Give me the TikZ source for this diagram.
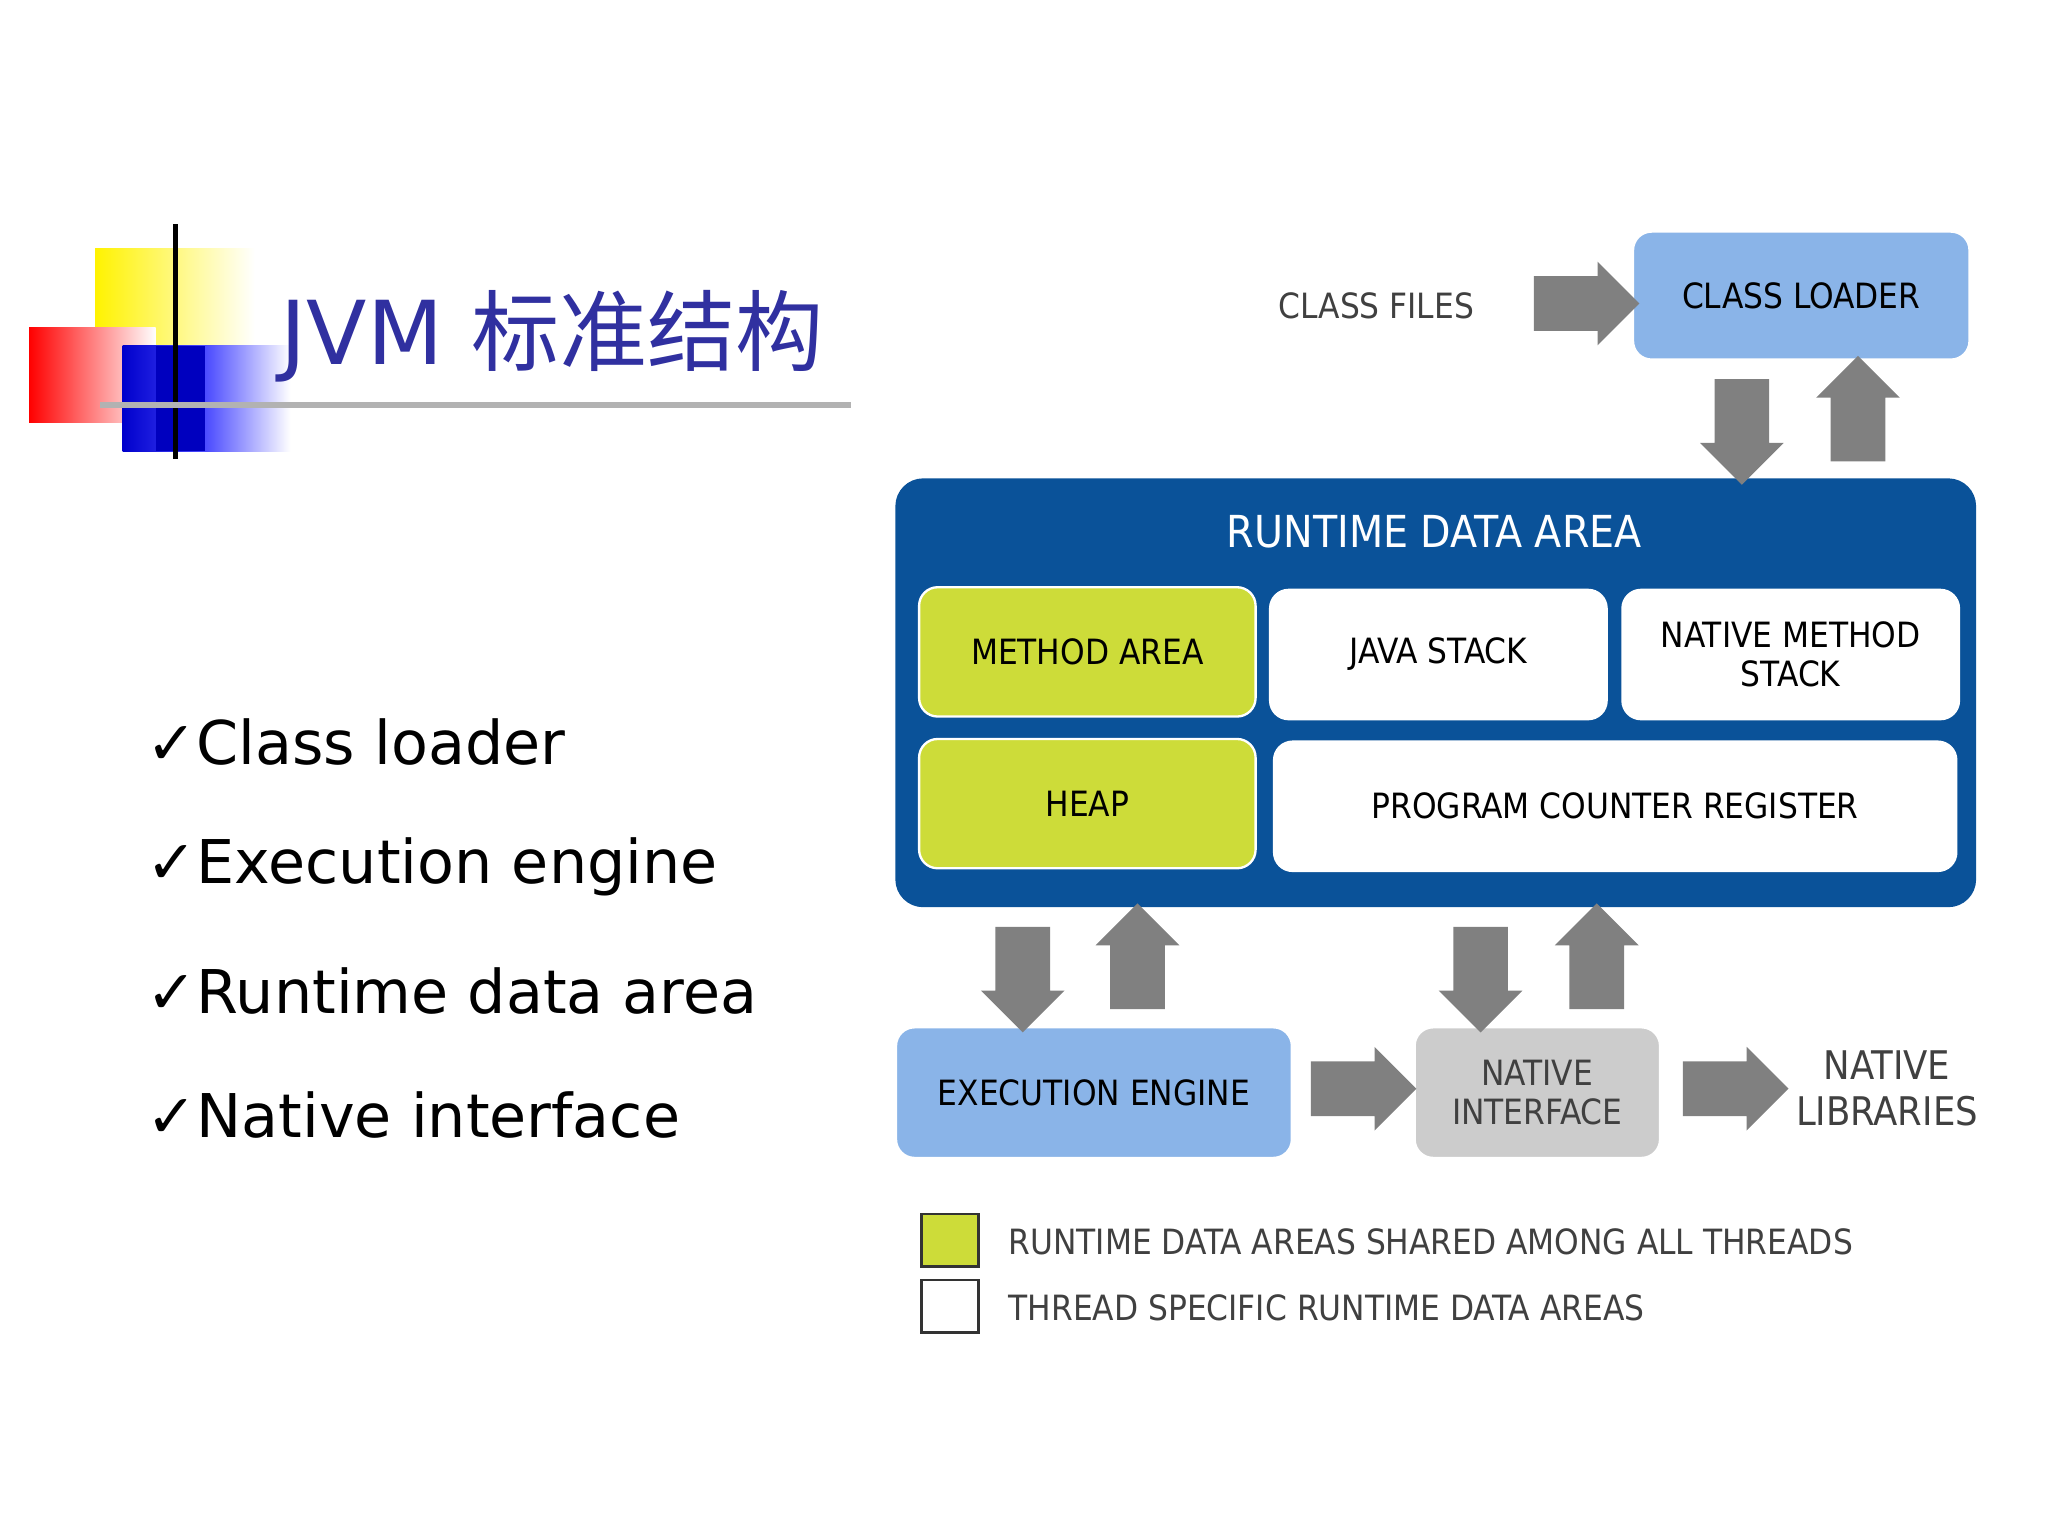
\documentclass[tikz,border=0pt]{standalone}
\usepackage{fontspec}
\setmainfont{DejaVu Sans}
\newfontfamily\cjk{Noto Sans CJK SC}
\newfontfamily\bfont{DejaVu Sans Condensed}
\usetikzlibrary{shapes.arrows}
\definecolor{rda}{HTML}{0A5299}
\definecolor{lime}{HTML}{CDDC39}
\definecolor{lblue}{HTML}{8AB4E8}
\definecolor{gar}{HTML}{808080}
\definecolor{ttl}{HTML}{3030A0}
\begin{document}
\begin{tikzpicture}[x=0.01cm,y=-0.01cm,
 box/.style={rounded corners=4pt,draw=white,line width=0.5pt,font=\bfont\fontsize{7.5}{8.5}\selectfont,align=center,inner sep=0pt},
 barr/.style={single arrow,fill=gar,draw=none,inner xsep=0pt,inner ysep=0.2cm,single arrow head extend=0.11cm,minimum height=80*0.01cm},
 lbl/.style={font=\bfont\fontsize{7.5}{8.5}\selectfont,text=black!75,align=center},
 bul/.style={anchor=west,font=\fontsize{13}{15}\selectfont,inner sep=0pt}]
\useasboundingbox (0,0) rectangle (1552,1164);
\fill[white] (0,0) rectangle (1552,1164);
% logo
\shade[left color=yellow!90!orange,right color=white] (72,188) rectangle (193,262);
\shade[left color=red,right color=white] (22,248) rectangle (118,320);
\shade[left color=blue!80!black,right color=white,middle color=blue!70] (93,262) rectangle (220,342);
\fill[blue!75!black] (118,262) rectangle (155,342);
\draw[line width=1.2pt] (133,170) -- (133,348);
\draw[gray!60,line width=1.2pt] (76,307) -- (645,307);
\node[anchor=west,text=ttl,font=\fontsize{19}{21}\selectfont,inner sep=0pt] (title) at (212,255) {JVM {\cjk 标准结构}};
% bullets
\node[bul] (b1) at (110,562) {✓Class loader};
\node[bul] (b2) at (110,657) {✓Execution engine};
\node[bul] (b3) at (110,751) {✓Runtime data area};
\node[bul] (b4) at (110,845) {✓Native interface};
% diagram
\node[box,fill=rda,draw=none,minimum width=819*0.01cm,minimum height=325*0.01cm,rounded corners=6pt] (rda) at (1088,525) {};
\node[text=white,font=\bfont\fontsize{9.5}{11}\selectfont] (rdat) at (1087,403) {RUNTIME DATA AREA};
\node[box,fill=lime,minimum width=255*0.01cm,minimum height=98*0.01cm] (ma) at (824,494) {METHOD AREA};
\node[box,fill=white,minimum width=255*0.01cm,minimum height=98*0.01cm] (js) at (1090,496) {JAVA STACK};
\node[box,fill=white,minimum width=255*0.01cm,minimum height=98*0.01cm] (nms) at (1357,496) {NATIVE METHOD\\STACK};
\node[box,fill=lime,minimum width=255*0.01cm,minimum height=98*0.01cm] (heap) at (824,609) {HEAP};
\node[box,fill=white,minimum width=517*0.01cm,minimum height=98*0.01cm] (pcr) at (1224,611) {PROGRAM COUNTER REGISTER};
\node[box,fill=lblue,minimum width=255*0.01cm,minimum height=97*0.01cm] (cl) at (1365,224) {CLASS LOADER};
\node[lbl] (cf) at (1043,232) {CLASS FILES};
\node[box,fill=lblue,minimum width=300*0.01cm,minimum height=99*0.01cm] (ee) at (829,828) {EXECUTION ENGINE};
\node[box,fill=gray!40,minimum width=186*0.01cm,minimum height=99*0.01cm,text=black!75] (ni) at (1165,828) {NATIVE\\INTERFACE};
\node[lbl,font=\bfont\fontsize{8.5}{10}\selectfont] (nl) at (1430,825) {NATIVE\\LIBRARIES};
% arrows
\node[barr] (a1) at (1192,230) {};
\node[barr,rotate=-90] (a2) at (1320,317) {};
\node[barr,rotate=90] (a3) at (1408,320) {};
\node[barr,rotate=-90] (a4) at (775,732) {};
\node[barr,rotate=90] (a5) at (862,735) {};
\node[barr,rotate=-90] (a6) at (1122,732) {};
\node[barr,rotate=90] (a7) at (1210,735) {};
\node[barr] (a8) at (1023,825) {};
\node[barr] (a9) at (1305,825) {};
% legend
\node[draw=black!80,fill=lime,minimum width=43*0.01cm,minimum height=40*0.01cm,inner sep=0pt,line width=0.6pt] (lg1) at (720,940) {};
\node[draw=black!80,fill=white,minimum width=43*0.01cm,minimum height=40*0.01cm,inner sep=0pt,line width=0.6pt] (lg2) at (720,990) {};
\node[lbl,anchor=west] (t1) at (752,941) {RUNTIME DATA AREAS SHARED AMONG ALL THREADS};
\node[lbl,anchor=west] (t2) at (752,991) {THREAD SPECIFIC RUNTIME DATA AREAS};
\end{tikzpicture}
\end{document}
